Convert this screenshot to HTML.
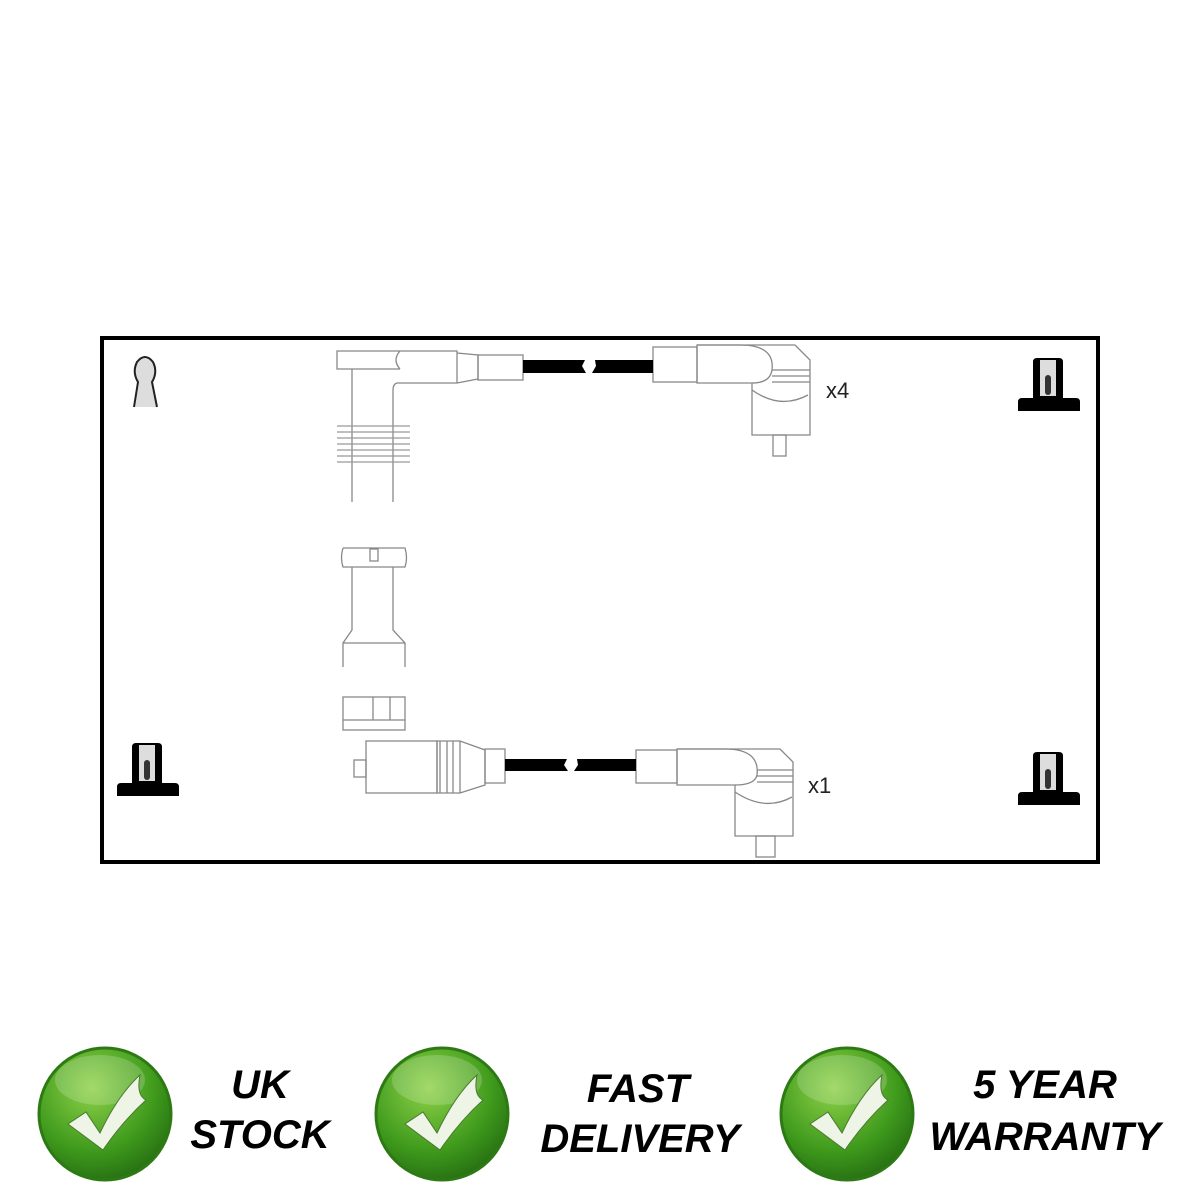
<!DOCTYPE html>
<html><head><meta charset="utf-8"><style>
html,body{margin:0;padding:0;background:#fff;}
svg{display:block}
</style></head><body>
<svg width="1200" height="1200" viewBox="0 0 1200 1200" xmlns="http://www.w3.org/2000/svg">
<defs>
<radialGradient id="g" cx="0.4" cy="0.3" r="0.8">
<stop offset="0" stop-color="#8fd24a"/><stop offset="0.6" stop-color="#3f9a1c"/><stop offset="1" stop-color="#1f6410"/>
</radialGradient>
</defs>
<rect x="102" y="338" width="996" height="524" fill="none" stroke="#000" stroke-width="4"/>
<g fill="none" stroke="#888" stroke-width="1.3">
<!-- top left plug -->
<path d="M400 351 H337 V369 H400"/>
<path d="M400 351 Q392 360 400 369"/>
<path d="M400 351 H457 V383 H397 Q393 384 393 390 V502"/>
<path d="M352 369 V502"/>
<path d="M457 353 L478 355 V379 L457 383"/>
<rect x="478" y="355" width="45" height="25"/>
<g stroke="#999"><path d="M337 426H410M337 432H410M337 438H410M337 444H410M337 450H410M337 456H410M337 462H410"/></g>
<!-- right elbow top -->
<rect x="653" y="347" width="44" height="35"/>
<path d="M697 345 H795 L810 360 V435 H752 V383 H697 Z"/>
<path d="M697 345 H740 Q775 345 772 370 Q770 383 752 383"/>
<path d="M752 390 Q780 410 808 395 M772 370H810 M772 376H810 M772 382H810"/>
<rect x="773" y="435" width="13" height="21"/>
<!-- middle parts -->
<path d="M343 548 H405 Q408 558 405 567 H343 Q340 558 343 548"/>
<rect x="370" y="549" width="8" height="12"/>
<path d="M352 567 V630 L343 643 V667 M393 567 V630 L405 643 V667 M343 643 H405"/>
<rect x="343" y="697" width="62" height="33"/>
<path d="M343 720 H405 M373 697 V720 M390 697 V720"/>
<!-- bottom left plug -->
<rect x="366" y="741" width="71" height="52"/>
<rect x="354" y="760" width="12" height="17"/>
<path d="M437 741 H460 L485 750 V785 L460 793 H437 Z M440 741V793 M447 741V793 M453 741V793 M460 741V793"/>
<rect x="485" y="749" width="20" height="34"/>
<!-- bottom right elbow -->
<rect x="636" y="750" width="41" height="33"/>
<path d="M677 749 H780 L793 762 V836 H735 V785 H677 Z"/>
<path d="M677 749 H725 Q760 749 757 775 Q755 785 735 785"/>
<path d="M735 792 Q765 812 792 797 M757 770H793 M757 776H793 M757 782H793"/>
<rect x="756" y="836" width="19" height="21"/>
</g>
<!-- cables -->
<g fill="#000">
<path d="M523 360 H585 L582 366 L586 373 H523 Z"/>
<path d="M595 360 H653 V373 H592 L596 366 Z"/>
<path d="M505 759 H567 L564 765 L568 771 H505 Z"/>
<path d="M577 759 H636 V771 H574 L578 765 Z"/>
</g>
<text x="826" y="398" font-family="Liberation Sans, sans-serif" font-size="22" fill="#222">x4</text>
<text x="808" y="793" font-family="Liberation Sans, sans-serif" font-size="22" fill="#222">x1</text>
<!-- terminal top-left -->
<path d="M134 407 L138 382 Q132 372 137 362 Q145 352 153 362 Q158 372 152 382 L157 407" fill="#ddd" stroke="#222" stroke-width="2"/>
<!-- black connectors -->
<g>
<path d="M1033 398 V362 Q1033 358 1037 358 H1059 Q1063 358 1063 362 V398 H1076 Q1080 398 1080 402 V411 H1018 V402 Q1018 398 1022 398 Z" fill="#000"/>
<rect x="1040" y="360" width="16" height="36" fill="#ddd"/>
<rect x="1045" y="375" width="6" height="20" rx="3" fill="#333"/>
</g>
<g transform="translate(-901 385)">
<path d="M1033 398 V362 Q1033 358 1037 358 H1059 Q1063 358 1063 362 V398 H1076 Q1080 398 1080 402 V411 H1018 V402 Q1018 398 1022 398 Z" fill="#000"/>
<rect x="1040" y="360" width="16" height="36" fill="#ddd"/>
<rect x="1045" y="375" width="6" height="20" rx="3" fill="#333"/>
</g>
<g transform="translate(0 394)">
<path d="M1033 398 V362 Q1033 358 1037 358 H1059 Q1063 358 1063 362 V398 H1076 Q1080 398 1080 402 V411 H1018 V402 Q1018 398 1022 398 Z" fill="#000"/>
<rect x="1040" y="360" width="16" height="36" fill="#ddd"/>
<rect x="1045" y="375" width="6" height="20" rx="3" fill="#333"/>
</g>
<!-- badges -->
<g id="b">
<circle cx="105" cy="1114" r="66" fill="url(#g)" stroke="#2d7a14" stroke-width="3"/>
<ellipse cx="100" cy="1080" rx="45" ry="25" fill="#fff" opacity="0.18"/>
<path d="M68 1124 L86 1112 L100 1133 Q118 1095 140 1075 Q136 1095 146 1100 Q122 1122 103 1150 Z" fill="#eef5e6" stroke="#4a7a30" stroke-width="1"/>
</g>
<use href="#b" x="337"/>
<use href="#b" x="742"/>
<g font-family="Liberation Sans, sans-serif" font-weight="bold" font-style="italic" font-size="40" fill="#000" text-anchor="middle">
<text x="260" y="1098">UK</text>
<text x="260" y="1148">STOCK</text>
<text x="638" y="1102">FAST</text>
<text x="640" y="1152">DELIVERY</text>
<text x="1045" y="1098">5 YEAR</text>
<text x="1045" y="1150">WARRANTY</text>
</g>
</svg>
</body></html>
